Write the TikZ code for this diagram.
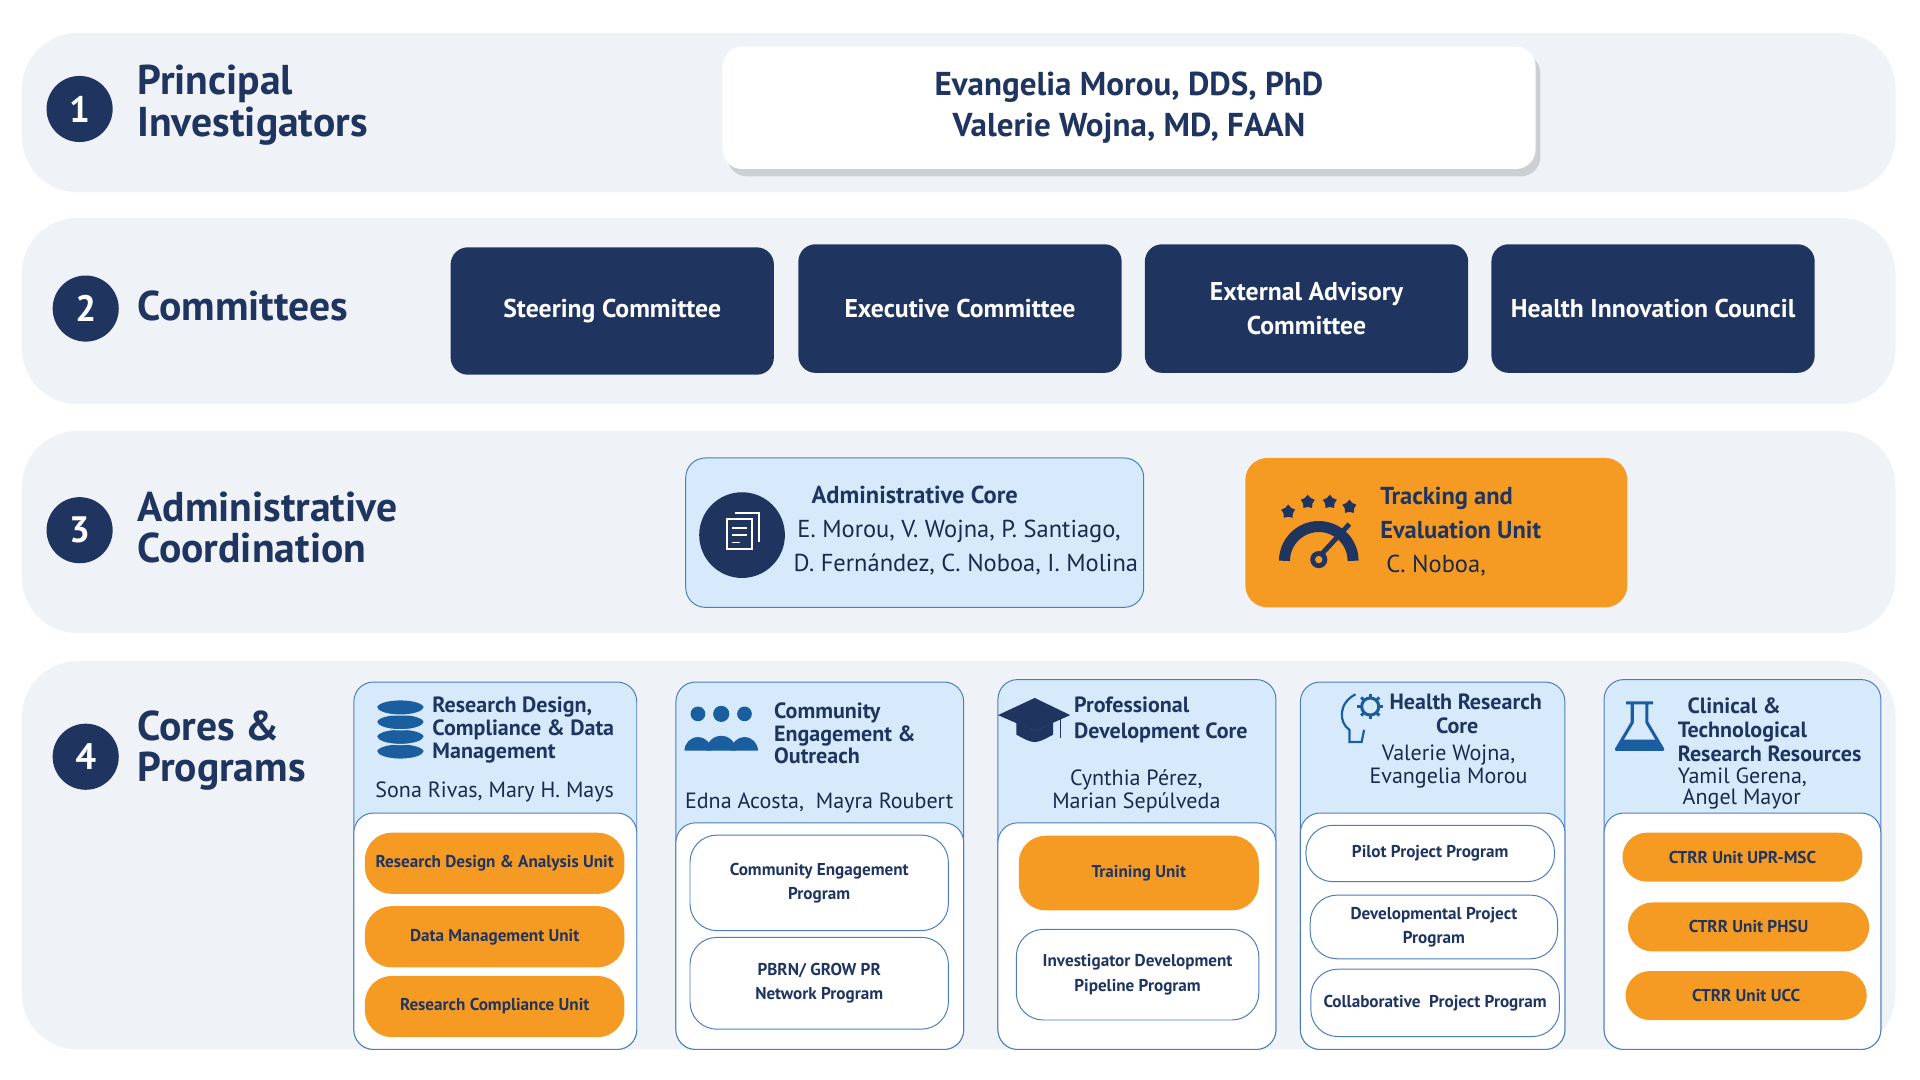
\documentclass[tikz,border=0pt]{standalone}
\usepackage{fontspec}
\setmainfont{PT Sans}
\usetikzlibrary{shadows,shapes.geometric}
\definecolor{navy}{HTML}{1F3560}
\definecolor{org}{HTML}{F59A23}
\definecolor{lb}{HTML}{D6EAFB}
\definecolor{bg}{HTML}{EFF3F7}
\definecolor{bd}{HTML}{4A7DBF}
\definecolor{ic}{HTML}{1B5EA0}
\newcommand{\fs}[1]{\fontsize{#1pt}{1.2\dimexpr #1pt\relax}\selectfont}
\begin{document}
\begin{tikzpicture}[x=1pt,y=-1pt,
 band/.style={fill=bg,rounded corners=45},
 num/.style={circle,fill=navy,text=white,minimum size=54,font=\fs{30}\bfseries,inner sep=0},
 ttl/.style={text=navy,font=\fs{34}\bfseries,align=left,anchor=west,inner sep=0},
 comm/.style={fill=navy,rounded corners=14,text=white,font=\fs{21}\bfseries,align=center},
 colbox/.style={draw=bd,fill=lb,rounded corners=16,line width=0.8},
 wpart/.style={draw=bd,fill=white,rounded corners=16,line width=0.8},
 ou/.style={fill=org,rounded corners=22,text=navy,font=\fs{14}\bfseries,align=center},
 wu/.style={draw=bd,fill=white,rounded corners=22,text=navy,font=\fs{14}\bfseries,align=center,line width=0.8},
 hd/.style={text=navy,font=\fs{18}\bfseries,align=center,inner sep=0},
 nm/.style={text=navy!80!black,font=\fs{18},align=center,inner sep=0}]
\useasboundingbox (0,0) rectangle (1568,882);
\fill[white] (0,0) rectangle (1568,882);
% bands
\fill[band] (18,27) rectangle (1548,157);
\fill[band] (18,178) rectangle (1548,330);
\fill[band] (18,352) rectangle (1548,517);
\fill[band] (18,540) rectangle (1548,857);
\node[num] (n1) at (65,89) {1};
\node[num] (n2) at (70,252) {2};
\node[num] (n3) at (65,433) {3};
\node[num] (n4) at (70,618) {4};
\node[ttl] (t1) at (112,86) {Principal\\[-7pt]Investigators};
\node[ttl] (t2) at (112,250) {Committees};
\node[ttl] (t3) at (112,431) {Administrative\\[-7pt]Coordination};
\node[ttl] (t4) at (112,613) {Cores \&\\[-7pt]Programs};
% PI
\node[fill=white,rounded corners=16,drop shadow={opacity=0.3,shadow xshift=4pt,shadow yshift=-6pt},minimum width=664,minimum height=100,text=navy,font=\fs{27}\bfseries,align=center] (pi) at (922,88) {Evangelia Morou, DDS, PhD\\[1pt]Valerie Wojna, MD, FAAN};
% committees
\node[comm,minimum width=264,minimum height=104] (c1) at (500,254) {Steering Committee};
\node[comm,minimum width=264,minimum height=105] (c2) at (784,252) {Executive Committee};
\node[comm,minimum width=264,minimum height=105] (c3) at (1067,252) {External Advisory\\[3pt]Committee};
\node[comm,minimum width=264,minimum height=105] (c4) at (1350,252) {Health Innovation Council};
% admin core
\draw[colbox] (560,374) rectangle (934,496);
\node[circle,fill=navy,minimum size=70] (aic) at (606,437) {};
\draw[white,line width=1.6] (594,424) rectangle (614,448) (600,419) -- (620,419) -- (620,443);
\draw[white,line width=1.4] (598,431)--(610,431) (598,437)--(610,437) (598,443)--(604,443);
\node[hd,font=\fs{20}\bfseries] (ah) at (747,404) {Administrative Core};
\node[nm,font=\fs{20},align=left,anchor=west] (an) at (648,447) {\hspace*{3pt}E. Morou, V. Wojna, P. Santiago,\\[4pt]D. Fernández, C. Noboa, I. Molina};
% tracking
\fill[org,rounded corners=18] (1017,374) rectangle (1329,496);
\node[hd,font=\fs{20}\bfseries,align=left,anchor=west] (th) at (1127,419) {Tracking and\\[4pt]Evaluation Unit};
\node[nm,font=\fs{20},anchor=west] (tn) at (1132,462) {C. Noboa,};
\draw[navy,line width=9] (1049,458) arc (180:360:28);
\draw[navy,line width=4] (1077,455) -- (1102,428);
\fill[navy] (1077,457) circle (7); \fill[org] (1077,457) circle (3);
\foreach \x/\y in {1052/418,1068/410,1086/410,1102/414} \node[star,star points=5,fill=navy,minimum size=12,inner sep=0] at (\x,\y) {};
% cores columns
\draw[colbox] (289,557) rectangle (520,857); \draw[wpart] (289,664) rectangle (520,857);
\draw[colbox] (552,557) rectangle (787,857); \draw[wpart] (552,672) rectangle (787,857);
\draw[colbox] (815,555) rectangle (1042,857); \draw[wpart] (815,672) rectangle (1042,857);
\draw[colbox] (1062,557) rectangle (1278,857); \draw[wpart] (1062,664) rectangle (1278,857);
\draw[colbox] (1310,555) rectangle (1536,857); \draw[wpart] (1310,664) rectangle (1536,857);
% col1
\node[hd,align=left,anchor=west] (h1) at (353,596) {Research Design,\\[-3pt]Compliance \& Data\\[-3pt]Management};
\node[nm] (m1) at (404,647) {Sona Rivas, Mary H. Mays};
\foreach \y in {614,602,590,578} {\fill[ic] (327,\y) ellipse (19 and 6); \draw[lb,line width=1] (308,\y) arc (180:0:19 and 6);}
\node[ou,minimum width=212,minimum height=50] (u11) at (404,705) {Research Design \& Analysis Unit};
\node[ou,minimum width=212,minimum height=50] (u12) at (404,765) {Data Management Unit};
\node[ou,minimum width=212,minimum height=50] (u13) at (404,822) {Research Compliance Unit};
% col2
\node[hd,align=left,anchor=west] (h2) at (632,599) {Community\\[-3pt]Engagement \&\\[-3pt]Outreach};
\node[nm] (m2) at (669,656) {Edna Acosta,\ \ Mayra Roubert};
\foreach \x/\s in {570/1,589/1.1,608/1} {\fill[ic] (\x,583) circle (6*\s); \fill[ic] (\x-11*\s,613) arc (180:360:11*\s) -- cycle;}
\node[wu,minimum width=211,minimum height=78] (u21) at (669,721) {Community Engagement\\[3pt]Program};
\node[wu,minimum width=211,minimum height=75] (u22) at (669,803) {PBRN/ GROW PR\\[3pt]Network Program};
% col3
\node[hd,align=left,anchor=west] (h3) at (877,588) {Professional\\[0pt]Development Core};
\node[nm] (m3) at (928,646) {Cynthia Pérez,\\[-3pt]Marian Sepúlveda};
\fill[navy] (815,584) -- (845,570) -- (874,584) -- (845,597) -- cycle;
\fill[navy] (830,590) -- (830,600) .. controls (845,608) .. (860,600) -- (860,590) -- (845,597) -- cycle;
\draw[navy,line width=1.5] (866,587) -- (866,603);
\node[ou,minimum width=196,minimum height=61] (u31) at (930,713) {Training Unit};
\node[wu,minimum width=198,minimum height=74] (u32) at (929,796) {Investigator Development\\[3pt]Pipeline Program};
% col4
\node[hd,align=center] (h4) at (1190,583) {\hspace*{14pt}Health Research\\[-2pt]Core};
\node[nm] (m4) at (1183,626) {Valerie Wojna,\\[-3pt]Evangelia Morou};
\draw[ic,line width=1.8] (1107,567) .. controls (1093,574) and (1093,590) .. (1102,596) -- (1102,606) -- (1112,606) -- (1114,596);
\draw[ic,line width=2.5] (1119,577) circle (7);
\foreach \a in {0,45,...,315} \draw[ic,line width=2.5] (1119,577) ++(\a:7) -- ++(\a:3.5);
\node[wu,minimum width=203,minimum height=46] (u41) at (1168,697) {Pilot Project Program};
\node[wu,minimum width=202,minimum height=52] (u42) at (1171,757) {Developmental Project\\[3pt]Program};
\node[wu,minimum width=203,minimum height=55] (u43) at (1172,819) {Collaborative\ \ Project Program};
% col5
\node[hd,align=left,anchor=west] (h5) at (1370,596) {\hspace*{8pt}Clinical \&\\[-2pt]Technological\\[-2pt]Research Resources};
\node[nm,align=left,anchor=west] (m5) at (1370,644) {Yamil Gerena,\\[-4pt]\hspace*{4pt}Angel Mayor};
\draw[ic,line width=2.5,line join=round] (1328,574) -- (1350,574) (1333,574) -- (1333,590) -- (1320,612) -- (1358,612) -- (1345,590) -- (1345,574);
\fill[ic] (1325,604) -- (1353,604) -- (1357,611) -- (1321,611) -- cycle;
\node[ou,minimum width=196,minimum height=40,rounded corners=20] (u51) at (1423,700) {CTRR Unit UPR-MSC};
\node[ou,minimum width=197,minimum height=40,rounded corners=20] (u52) at (1428,757) {CTRR Unit PHSU};
\node[ou,minimum width=197,minimum height=40,rounded corners=20] (u53) at (1426,813) {CTRR Unit UCC};
\end{tikzpicture}
\end{document}
